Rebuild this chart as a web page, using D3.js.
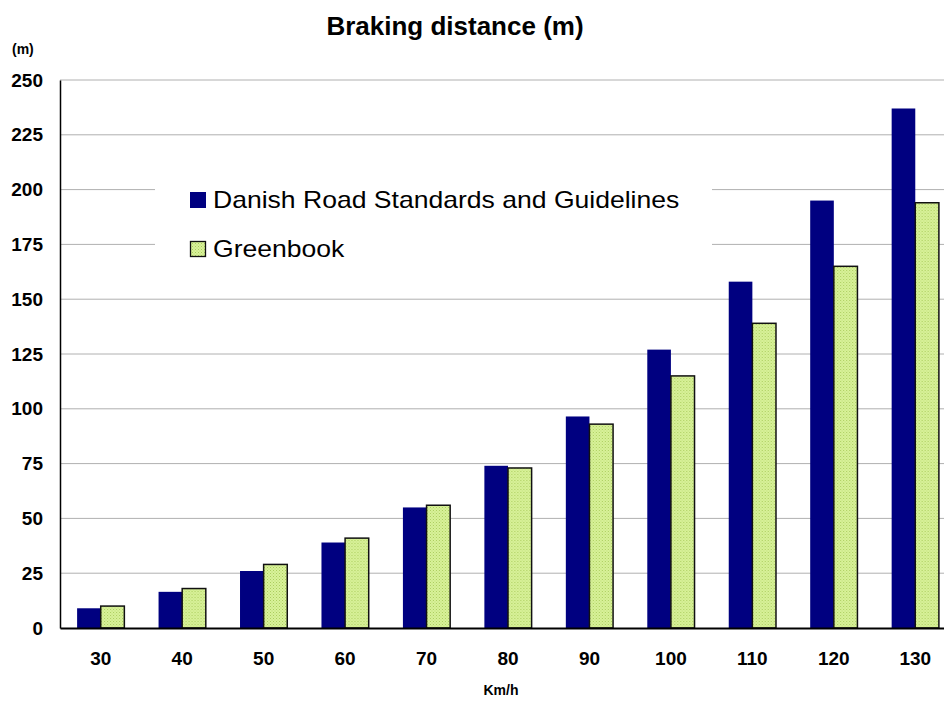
<!DOCTYPE html>
<html>
<head>
<meta charset="utf-8">
<script src="https://cdn.jsdelivr.net/npm/d3@7"></script>
<style>
  body { margin: 0; background: #fff; }
  text { font-family: "Liberation Sans", Arial, sans-serif; }
</style>
</head>
<body>
<svg id="chart" width="944" height="701"></svg>
<script>
const speeds = ["30", "40", "50", "60", "70", "80", "90", "100", "110", "120", "130"];
const danish = [9, 16.5, 26, 39, 55, 74, 96.5, 127, 158, 195, 237];
const greenbook = [10, 18, 29, 41, 56, 73, 93, 115, 139, 165, 194];
const yTicks = [0, 25, 50, 75, 100, 125, 150, 175, 200, 225, 250];
const seriesNames = ["Danish Road Standards and Guidelines", "Greenbook"];

const w = 944, h = 701;
const plotLeft = 60, plotRight = 956, plotTop = 80, plotBottom = 628;
const font = "Liberation Sans, Arial, sans-serif";

const svg = d3.select("#chart");

// dotted fill for the Greenbook bars
const defs = svg.append("defs");
const pat = defs.append("pattern")
  .attr("id", "dots")
  .attr("patternUnits", "userSpaceOnUse")
  .attr("width", 3).attr("height", 3);
pat.append("rect").attr("width", 3).attr("height", 3).attr("fill", "#d9f29a");
pat.append("rect").attr("width", 1).attr("height", 1).attr("fill", "#a9cc5c");
pat.append("rect").attr("x", 1.5).attr("y", 1.5).attr("width", 1).attr("height", 1).attr("fill", "#b8d870");

const x = d3.scaleBand().domain(speeds).range([plotLeft, plotRight]).paddingInner(0.42).paddingOuter(0.21);
const xs = d3.scaleBand().domain([0, 1]).range([0, x.bandwidth()]);
const y = d3.scaleLinear().domain([0, 250]).range([plotBottom, plotTop]);

// grid
svg.append("g")
  .selectAll("line")
  .data(yTicks.filter(d => d > 0))
  .enter()
  .append("line")
  .attr("x1", plotLeft).attr("x2", w)
  .attr("y1", d => y(d)).attr("y2", d => y(d))
  .attr("stroke", "#b0b0b0")
  .attr("stroke-width", 1);

// bars
const groups = svg.append("g")
  .selectAll("g")
  .data(speeds)
  .enter()
  .append("g")
  .attr("transform", d => "translate(" + x(d) + ",0)");

groups.append("rect")
  .attr("x", xs(0))
  .attr("y", (d, i) => y(danish[i]))
  .attr("width", xs.bandwidth())
  .attr("height", (d, i) => plotBottom - y(danish[i]))
  .attr("fill", "#000080");

groups.append("rect")
  .attr("x", xs(1))
  .attr("y", (d, i) => y(greenbook[i]))
  .attr("width", xs.bandwidth())
  .attr("height", (d, i) => plotBottom - y(greenbook[i]))
  .attr("fill", "url(#dots)")
  .attr("stroke", "#111")
  .attr("stroke-width", 1.5);

// legend box
const legend = svg.append("g");
legend.append("rect")
  .attr("x", 155).attr("y", 165)
  .attr("width", 557).attr("height", 115)
  .attr("fill", "#fff");
legend.append("rect")
  .attr("x", 190).attr("y", 192).attr("width", 16).attr("height", 16)
  .attr("fill", "#000080");
legend.append("rect")
  .attr("x", 190.5).attr("y", 241.5).attr("width", 15).attr("height", 15)
  .attr("fill", "url(#dots)").attr("stroke", "#111").attr("stroke-width", 1.3);
legend.selectAll("text.lg")
  .data(seriesNames)
  .enter()
  .append("text")
  .attr("class", "lg")
  .attr("transform", (d, i) => "translate(213," + (208 + i * 49) + ") scale(1.155,1)")
  .attr("font-size", 23)
  .attr("fill", "#000")
  .text(d => d);

// axes
const yAxis = d3.axisLeft(y).tickValues(yTicks).tickSize(0).tickPadding(17);
const yg = svg.append("g").attr("transform", "translate(" + plotLeft + ",0)").call(yAxis);
yg.select(".domain").attr("stroke", "#000").attr("stroke-width", 1.5);
yg.selectAll("text").attr("font-size", 19).attr("font-weight", "bold")
  .attr("font-family", font).attr("fill", "#000");

const xAxis = d3.axisBottom(x).tickSize(0).tickPadding(24);
const xg = svg.append("g").attr("transform", "translate(0," + plotBottom + ")").call(xAxis);
xg.select(".domain").attr("stroke", "#000").attr("stroke-width", 2);
xg.selectAll("text").attr("font-size", 19).attr("font-weight", "bold")
  .attr("font-family", font).attr("fill", "#000");

// titles
svg.append("text")
  .attr("x", 455).attr("y", 35)
  .attr("text-anchor", "middle")
  .attr("font-size", 26).attr("font-weight", "bold")
  .text("Braking distance (m)");

svg.append("text")
  .attr("x", 12).attr("y", 54)
  .attr("font-size", 14).attr("font-weight", "bold")
  .text("(m)");

svg.append("text")
  .attr("x", 501).attr("y", 695)
  .attr("text-anchor", "middle")
  .attr("font-size", 14).attr("font-weight", "bold")
  .text("Km/h");
</script>
</body>
</html>
